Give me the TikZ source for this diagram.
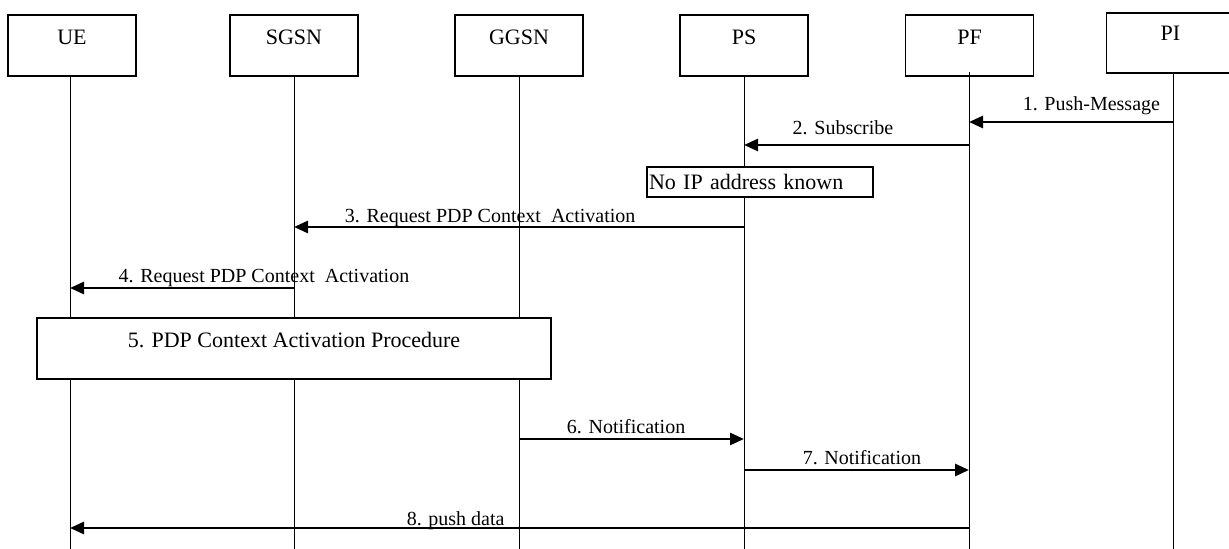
\documentclass[tikz,border=0pt]{standalone}
\usepackage{fontspec}
\setmainfont{Liberation Serif}
\usetikzlibrary{arrows.meta}
\begin{document}
\begin{tikzpicture}[x=0.5pt,y=-0.5pt,
  actor/.style={draw,line width=0.6pt,minimum width=64pt,minimum height=30.5pt,inner sep=0pt,font=\fontsize{11}{13}\selectfont,text depth=8.5pt},
  life/.style={line width=0.5pt},
  msg/.style={line width=1.4pt,-{Triangle[length=7pt,width=6pt]}},
  lbl/.style={font=\fontsize{10}{12}\selectfont,anchor=base,inner sep=0pt},
  note/.style={draw,fill=white,line width=0.6pt,inner sep=0pt,font=\fontsize{11}{13}\selectfont}]
\useasboundingbox (0,0) rectangle (1229,549);
% actors
\node[actor] (ue) at (72,45.5) {UE};
\node[actor] (sgsn) at (294,45.5) {SGSN};
\node[actor] (ggsn) at (519,45.5) {GGSN};
\node[actor] (ps) at (744,45.5) {PS};
\node[actor] (pf) at (969.5,45.5) {PF};
\node[actor,text depth=10pt,minimum height=30pt] (pi) at (1170.5,43) {PI};
% lifeline ends
\coordinate (ueE) at (70,549);
\coordinate (sgE) at (294,549);
\coordinate (ggE) at (519,549);
\coordinate (psE) at (744,549);
\coordinate (pfE) at (969,549);
\coordinate (piE) at (1173,549);
\draw[life] (ue.south -| ueE) -- (ueE);
\draw[life] (sgsn.south -| sgE) -- (sgE);
\draw[life] (ggsn.south -| ggE) -- (ggE);
\draw[life] (ps.south -| psE) -- (psE);
\draw[life] ([yshift=2.5pt]pf.south -| pfE) -- (pfE);
\draw[life] (pi.south -| piE) -- (piE);
% notes
\node[note,minimum width=113pt,minimum height=15pt,text width=111pt,inner xsep=1pt,align=left] (noip) at (760,182) {No IP address known};
\node[note,minimum width=257pt,minimum height=30.5pt,text depth=8.5pt] (proc) at (294,348.5) {5. PDP Context Activation Procedure};
% messages
\draw[msg] (piE |- 0,122) -- node[lbl,pos=0.40,yshift=5.5pt]{1. Push-Message} (pfE |- 0,122);
\draw[msg] (pfE |- 0,145) -- node[lbl,pos=0.56,yshift=5pt]{2. Subscribe} (psE |- 0,145);
\draw[msg] (psE |- 0,227) -- node[lbl,pos=0.564,yshift=2pt]{3. Request PDP Context\ \ Activation} (sgE |- 0,227);
\draw[msg] (sgE |- 0,288) -- node[lbl,pos=0.134,yshift=2.5pt]{4. Request PDP Context\ \ Activation} (ueE |- 0,288);
\draw[msg] (ggE |- 0,439) -- node[lbl,pos=0.476,yshift=3pt]{6. Notification} (psE |- 0,439);
\draw[msg] (psE |- 0,470) -- node[lbl,pos=0.524,yshift=3pt]{7. Notification} (pfE |- 0,470);
\draw[msg] (pfE |- 0,528) -- node[lbl,pos=0.571,yshift=1.5pt]{8. push data} (ueE |- 0,528);
\end{tikzpicture}
\end{document}
